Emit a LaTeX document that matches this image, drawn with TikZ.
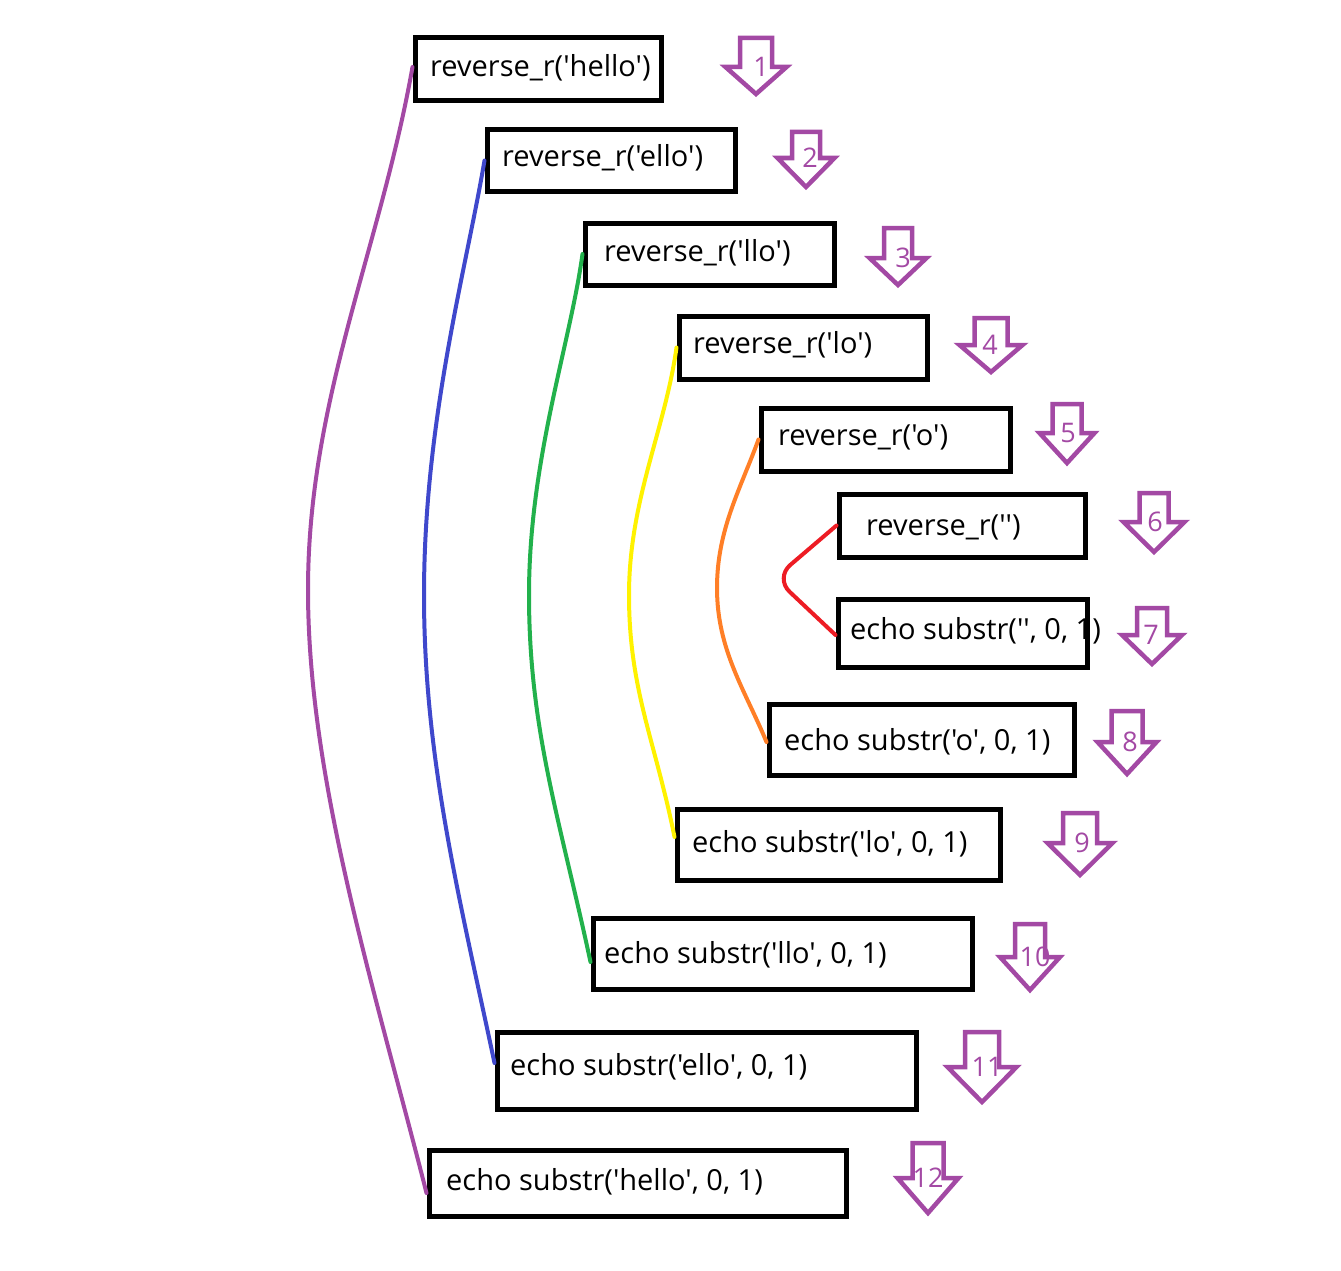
\documentclass[tikz,border=0pt]{standalone}
\usepackage{fontspec}
\newfontfamily\ofont{Open Sans}
\definecolor{ppurple}{HTML}{A349A4}
\definecolor{pblue}{HTML}{3F48CC}
\definecolor{pgreen}{HTML}{22B14C}
\definecolor{pyellow}{HTML}{FFF200}
\definecolor{porange}{HTML}{FF7F27}
\definecolor{pred}{HTML}{ED1C24}
\newcommand\stepdown[9]{% name, cx, top, base, tip, shaft half, head half, label, label x
  \draw[arrowline] (#2-#6,#3) -- (#2+#6,#3) -- (#2+#6,#4) -- (#2+#7,#4) -- (#2,#5) -- (#2-#7,#4) -- (#2-#6,#4) -- cycle;
  \node[numlbl] (#1) at (#9,#4) {#8};
}
\begin{document}
\begin{tikzpicture}[x=1pt,y=-1pt,
  box/.style={draw=black, line width=5pt, inner sep=0pt},
  lbl/.style={anchor=base west, inner sep=0pt, font=\ofont\fontsize{29}{32}\selectfont},
  numlbl/.style={inner sep=0pt, text=ppurple, font=\ofont\fontsize{27}{30}\selectfont},
  arrowline/.style={draw=ppurple, line width=4.5pt, line join=miter},
  link/.style={line width=4pt, line cap=round}]
\useasboundingbox (0,0) rectangle (1341,1271);

% boxes
\node[box, minimum width=246pt, minimum height=63pt] (b1) at (538,69.5) {};
\node[box, minimum width=248pt, minimum height=61pt] (b2) at (611,160.5) {};
\node[box, minimum width=249pt, minimum height=62pt] (b3) at (709.5,254) {};
\node[box, minimum width=248pt, minimum height=63pt] (b4) at (803,347.5) {};
\node[box, minimum width=249pt, minimum height=63pt] (b5) at (885.5,439.5) {};
\node[box, minimum width=246pt, minimum height=63pt] (b6) at (962,525.5) {};
\node[box, minimum width=249pt, minimum height=68pt] (b7) at (962.5,633) {};
\node[box, minimum width=305pt, minimum height=71pt] (b8) at (921.5,739.5) {};
\node[box, minimum width=323pt, minimum height=71pt] (b9) at (838.5,844.5) {};
\node[box, minimum width=379pt, minimum height=71pt] (b10) at (782.5,953.5) {};
\node[box, minimum width=419pt, minimum height=77pt] (b11) at (706.5,1070.5) {};
\node[box, minimum width=417pt, minimum height=66pt] (b12) at (637.5,1183) {};

% connectors
\draw[link, ppurple] ([yshift=2.5pt]b1.west) .. controls (380,250) and (308,400) .. (308,590)
  .. controls (308,780) and (375,990) .. ([yshift=-10pt]b12.west);
\draw[link, pblue] (b2.west) .. controls (466,270) and (424,420) .. (424,595)
  .. controls (424,760) and (460,900) .. ([yshift=7.5pt]b11.west);
\draw[link, pgreen] (b3.west) .. controls (570,345) and (529,460) .. (529,595)
  .. controls (529,730) and (560,820) .. ([yshift=-8.5pt]b10.west);
\draw[link, pyellow] (b4.west) .. controls (665,430) and (629,500) .. (629,595)
  .. controls (629,690) and (655,740) .. ([yshift=7.5pt]b9.west);
\draw[link, porange] (b5.west) .. controls (740,490) and (717,530) .. (717,588)
  .. controls (717,650) and (745,690) .. ([yshift=-2.5pt]b8.west);
\draw[link, pred, rounded corners=20pt] (b6.west) -- (775,578) -- ([yshift=-2pt]b7.west);

% texts
\node[lbl] (t1) at (430,77) {reverse\_r('hello')};
\node[lbl] (t2) at (502,167) {reverse\_r('ello')};
\node[lbl] (t3) at (604,261) {reverse\_r('llo')};
\node[lbl] (t4) at (693,353) {reverse\_r('lo')};
\node[lbl] (t5) at (778,445) {reverse\_r('o')};
\node[lbl] (t6) at (866,535) {reverse\_r('')};
\node[lbl] (t7) at (850,639) {echo substr('', 0, 1)};
\node[lbl] (t8) at (784,750) {echo substr('o', 0, 1)};
\node[lbl] (t9) at (692,852) {echo substr('lo', 0, 1)};
\node[lbl] (t10) at (604,963) {echo substr('llo', 0, 1)};
\node[lbl] (t11) at (510,1075) {echo substr('ello', 0, 1)};
\node[lbl] (t12) at (446,1190) {echo substr('hello', 0, 1)};

% step arrows
\stepdown{a1}{756}{38}{67}{94}{16}{30.5}{1}{761}
\stepdown{a2}{806}{132}{158}{187}{14}{28.5}{2}{810}
\stepdown{a3}{898}{228}{258}{285}{14}{28.5}{3}{903}
\stepdown{a4}{991}{318}{345}{372}{16.5}{31.5}{4}{990}
\stepdown{a5}{1067}{404}{433}{463}{14.5}{27.5}{5}{1068}
\stepdown{a6}{1154}{493}{522}{552}{14.5}{30.5}{6}{1155}
\stepdown{a7}{1152}{608}{635}{664}{15}{30}{7}{1151}
\stepdown{a8}{1127}{711}{742}{774}{15.5}{29.5}{8}{1130}
\stepdown{a9}{1080}{813}{843}{875}{17}{32.5}{9}{1082}
\stepdown{a10}{1030}{924}{957}{990}{15}{30}{10}{1035}
\stepdown{a11}{982}{1032}{1067}{1102}{17}{34.5}{11}{987}
\stepdown{a12}{928}{1143}{1178}{1213}{15.5}{30.5}{12}{928}
\end{tikzpicture}
\end{document}
